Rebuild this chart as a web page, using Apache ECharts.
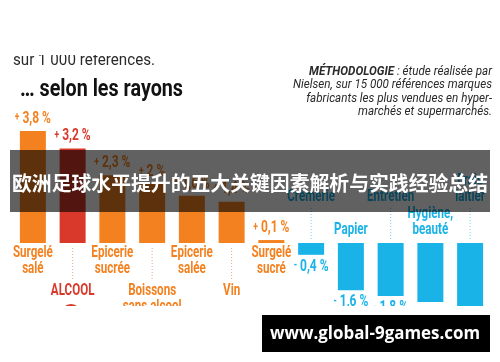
<!DOCTYPE html>
<html>
<head>
<meta charset="utf-8">
<script src="https://cdn.jsdelivr.net/npm/echarts@6/dist/echarts.min.js"></script>
<style>html,body{margin:0;padding:0;background:#fff}#c{width:500px;height:362px}</style>
</head>
<body>
<div id="c"></div>
<script>
// ---- data ----
const categories = ['Surgelé\nsalé','ALCOOL','Epicerie\nsucrée','Boissons\nsans alcool','Epicerie\nsalée','Vin','Surgelé\nsucré','Crèmerie','Papier','Entretien','Hygiène,\nbeauté','Frais\nlaitier'];
const values = [3.8, 3.2, 2.3, 2.0, 1.6, 1.4, 0.1, -0.4, -1.6, -1.8, -2.0, -2.4];
const valueLabels = ['+ 3,8 %','+ 3,2 %','+ 2,3 %','+ 2 %','+ 1,6 %','+ 1,4 %','+ 0,1 %','- 0,4 %','- 1,6 %','- 1,8 %','- 2 %','- 2,4 %'];
const labelRow = [0,1,0,1,0,1,0,1,0,1,0,1];
const highlight = 'ALCOOL';
const subtitle = 'sur 1 000 références.';
const heading = '… selon les rayons';
const methodo = ['{b|MÉTHODOLOGIE} : étude réalisée par','Nielsen, sur 15 000 références marques','fabricants les plus vendues en hyper-','marchés et supermarchés.'];
const banner = '欧洲足球水平提升的五大关键因素解析与实践经验总结';
const website = 'www.global-9games.com';

// ---- style ----
const ORANGE = '#f4811f', RED = '#d8392b', BLUE = '#19b3e8';
const cv = document.createElement('canvas').getContext('2d');
function w(text, font){ cv.font = font; return cv.measureText(text).width; }
const CAT_FONT = 'bold 16px Roboto';
const VAL_FONT = 'bold 17px Roboto';
const catScale = 40 / w('Surgelé', CAT_FONT);
const valScale = 38 / w('+ 3,8 %', VAL_FONT);

function colorOf(i){
  if (categories[i] === highlight) return RED;
  return values[i] >= 0 ? ORANGE : BLUE;
}

const chart = echarts.init(document.getElementById('c'), null, {renderer:'canvas'});

function renderItem(params, api){
  const i = api.value(0), v = api.value(1);
  const base = api.coord([i, 0]);
  const tip = api.coord([i, v]);
  const x = base[0];
  const col = colorOf(i);
  const kids = [];
  const pos = v >= 0;
  // value label (small sign + number)
  const lab = valueLabels[i];
  const txt = '{s|' + lab.charAt(0) + '} ' + lab.slice(2);
  kids.push({type:'text', x: x, y: pos ? tip[1]-4 : tip[1]+3, scaleX: valScale,
    style:{text: txt, fill: col, font: VAL_FONT, align:'center', verticalAlign: pos?'bottom':'top',
      rich:{s:{font:'bold 12px Roboto', fill: col}}}});
  // category label
  const far = labelRow[i] === 1;
  let ly, va;
  if (pos){ ly = far ? base[1]+40 : base[1]+2; va = 'top'; }
  else { ly = far ? base[1]-38 : base[1]-5; va = 'bottom'; }
  kids.push({type:'text', x: x, y: ly, scaleX: catScale,
    style:{text: categories[i], fill: col, font: CAT_FONT, align:'center', verticalAlign: va, lineHeight: 16}});
  if (far){
    const y1 = pos ? base[1]+5 : base[1]-35;
    const y2 = pos ? base[1]+38 : base[1]-4;
    kids.push({type:'line', shape:{x1:x, y1:y1, x2:x, y2:y2},
      style:{stroke: pos ? 'rgba(216,90,60,0.55)' : 'rgba(25,179,232,0.6)', lineWidth:1, lineDash:[1,2]}});
  }
  return {type:'group', children: kids};
}

const headFont = 'bold 24px Roboto';
const subFont = '17px Roboto';
const metFont = 'italic 13px Roboto';
const metScale = 199 / w('Nielsen, sur 15 000 références marques', metFont);
const banFont = 'bold 20px "Noto Sans CJK SC"';
const banScale = 476 / w(banner, banFont);
const webFont = 'bold 17px "Open Sans"';
const webScale = 210 / w(website, webFont);

const graphics = [
  {type:'text', x:13, y:61, scaleX: 142 / w(subtitle, subFont), z:10,
    style:{text: subtitle, font: subFont, fill:'#2a2a2a', align:'left', verticalAlign:'middle'}},
  {type:'rect', shape:{x:0, y:0, width:500, height:55}, style:{fill:'#fff'}, z:11},
  {type:'text', x:20, y:90, scaleX: 163 / w(heading, headFont), z:10,
    style:{text: heading, font: headFont, fill:'#111', align:'left', verticalAlign:'middle'}}
];
methodo.forEach((t, k) => {
  graphics.push({type:'text', x:492, y:72 + k*13.2, scaleX: metScale, z:10,
    style:{text: t, font: metFont, fill:'#2a2a2a', align:'right', verticalAlign:'middle',
      rich:{b:{font:'bold italic 13px Roboto', fill:'#2a2a2a'}}}});
});
graphics.push(
  {type:'circle', shape:{cx:71, cy:314, r:10}, style:{fill:RED}, z:5},
  {type:'rect', shape:{x:0, y:306, width:500, height:56}, style:{fill:'#fff'}, z:20},
  {type:'rect', shape:{x:10, y:150, width:480, height:62}, style:{fill:'rgba(0,0,0,0.62)'}, z:30},
  {type:'text', x:250, y:183, scaleX: banScale, z:31,
    style:{text: banner, font: banFont, fill:'#fff', align:'center', verticalAlign:'middle'}},
  {type:'rect', shape:{x:262, y:315, width:228, height:37}, style:{fill:'#000'}, z:30},
  {type:'text', x:375, y:334, scaleX: webScale, z:31,
    style:{text: website, font: webFont, fill:'#fff', align:'center', verticalAlign:'middle'}}
);

chart.setOption({
  animation:false,
  backgroundColor:'#fff',
  grid:{left:13, right:10, top:125, height:206.5},
  xAxis:{type:'category', data: categories, show:false},
  yAxis:{type:'value', min:-3, max:4, show:false},
  series:[
    {type:'bar', barWidth:26, data: values.map((v,i)=>({value:v, itemStyle:{color: colorOf(i)}})), z:2},
    {type:'custom', renderItem: renderItem, data: values.map((v,i)=>[i, v]), z:3, clip:false}
  ],
  graphic: graphics
});
</script>
</body>
</html>
